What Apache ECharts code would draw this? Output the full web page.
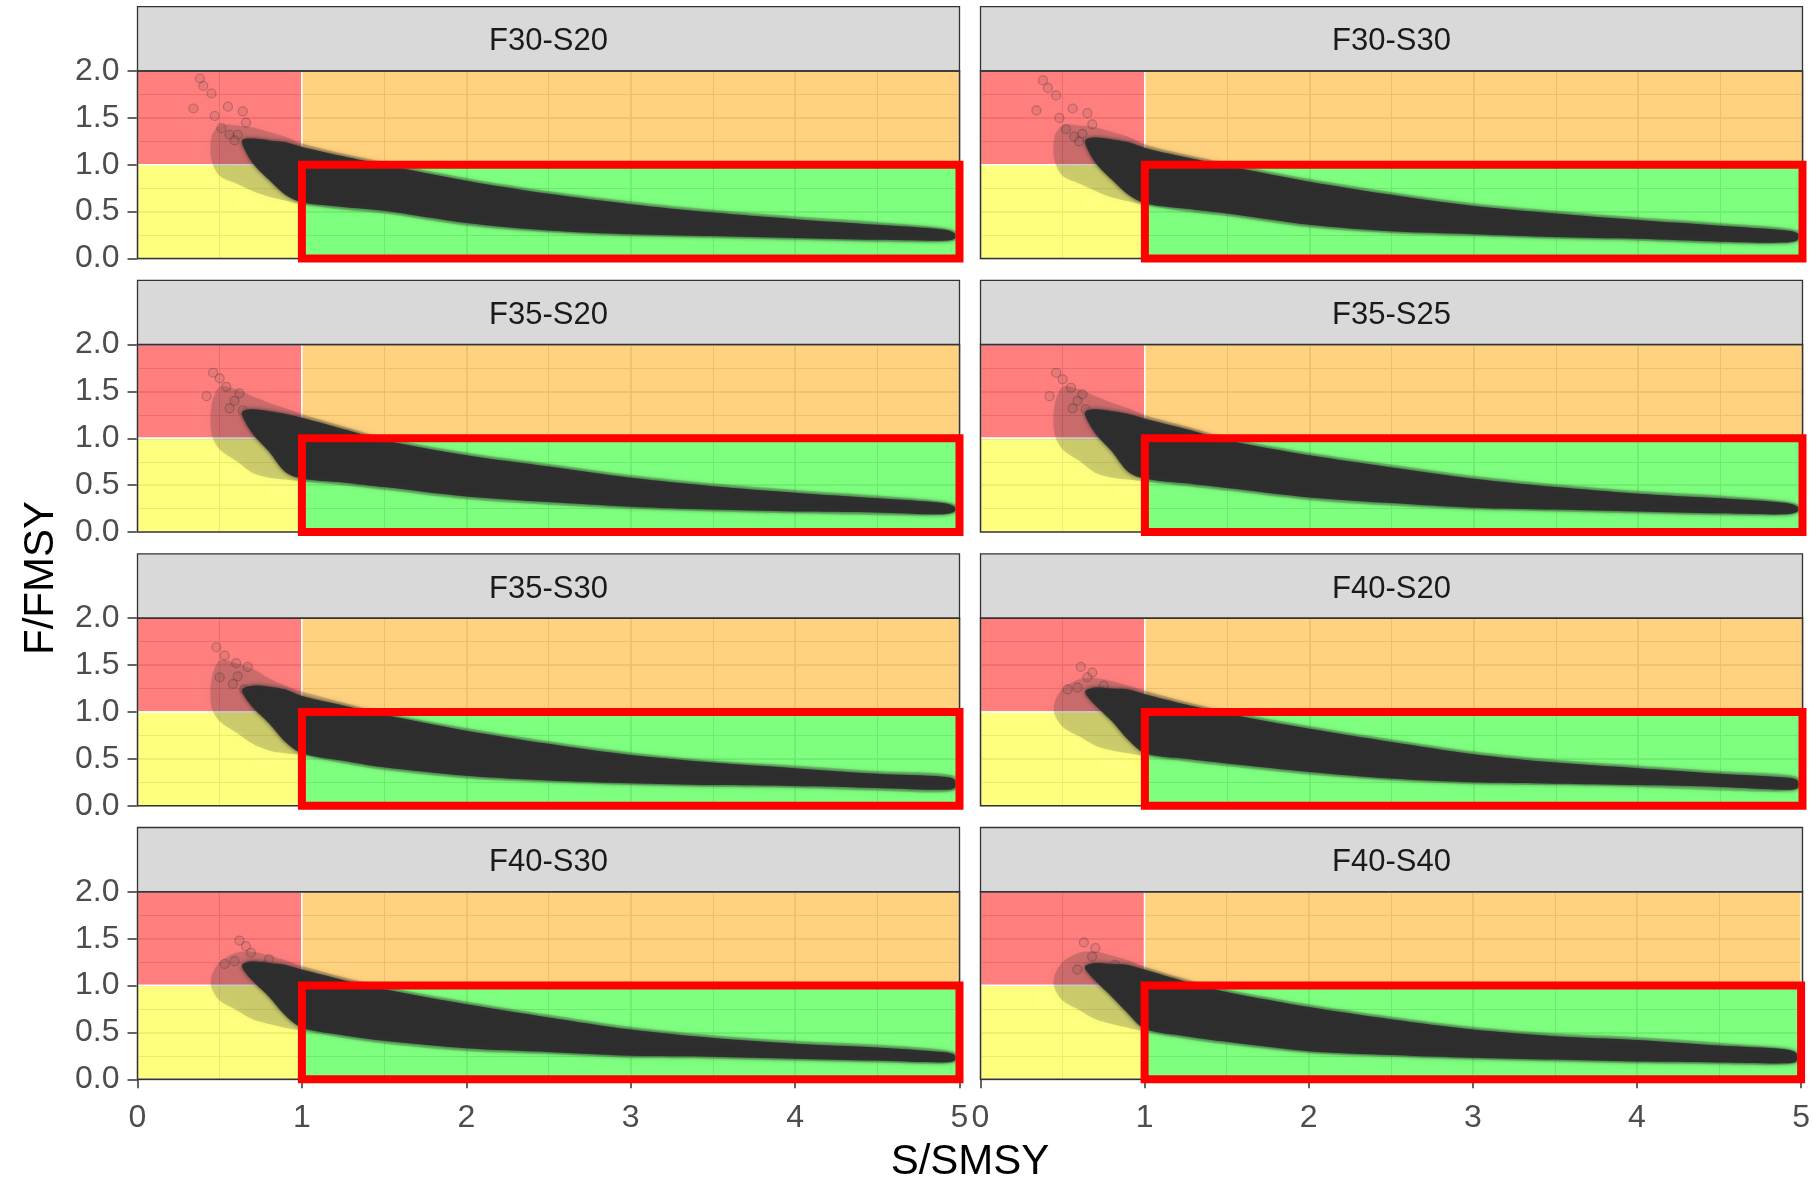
<!DOCTYPE html>
<html>
<head>
<meta charset="utf-8">
<title>F/FMSY vs S/SMSY</title>
<script src="https://cdn.jsdelivr.net/npm/echarts@6/dist/echarts.min.js"></script>
<style>
  html, body { margin: 0; padding: 0; background: #fff; }
  #main { width: 1813px; height: 1180px; }
</style>
</head>
<body>
<div id="main"></div>
<script>
// panel titles, in reading order (row by row)
var panelNames = ['F30-S20', 'F30-S30', 'F35-S20', 'F35-S25', 'F35-S30', 'F40-S20', 'F40-S30', 'F40-S40'];

var xTicks = [0, 1, 2, 3, 4, 5];
var yTicks = [0, 0.5, 1, 1.5, 2];

// zones (S/SMSY, F/FMSY)
var zoneRed = [[0, 1], [1, 2]];
var zoneOrange = [[1, 1], [5, 2]];
var zoneYellow = [[0, 0], [1, 1]];
var zoneGreen = [[1, 0], [5, 1]];
// outline of the target box
var boxX = [1, 5, 5, 1, 1];
var boxY = [0, 0, 1, 1, 0];

// dense part of the cloud: upper / lower edge at these S/SMSY values
var denseX = [0.64, 0.7, 0.8, 0.9, 1.0, 1.25, 1.5, 2.0, 2.5, 3.0, 3.5, 4.0, 4.5, 4.9, 4.97];
var upF30S20 = [1.27, 1.28, 1.26, 1.24, 1.19, 1.09, 1.00, 0.83, 0.69, 0.58, 0.49, 0.42, 0.36, 0.31, 0.27];
var loF30S20 = [1.21, 1.02, 0.84, 0.68, 0.60, 0.55, 0.51, 0.38, 0.30, 0.26, 0.24, 0.22, 0.20, 0.19, 0.21];
var upF30S30 = [1.27, 1.29, 1.27, 1.24, 1.18, 1.08, 0.99, 0.82, 0.68, 0.56, 0.48, 0.41, 0.35, 0.30, 0.27];
var loF30S30 = [1.21, 1.02, 0.84, 0.68, 0.59, 0.53, 0.48, 0.36, 0.29, 0.26, 0.23, 0.21, 0.18, 0.17, 0.20];
var upF35S20 = [1.29, 1.31, 1.29, 1.26, 1.22, 1.10, 0.98, 0.82, 0.70, 0.58, 0.49, 0.42, 0.36, 0.31, 0.27];
var loF35S20 = [1.23, 1.05, 0.86, 0.64, 0.57, 0.53, 0.48, 0.38, 0.32, 0.27, 0.24, 0.22, 0.21, 0.19, 0.22];
var upF35S25 = [1.29, 1.31, 1.29, 1.26, 1.21, 1.10, 0.98, 0.82, 0.69, 0.57, 0.48, 0.41, 0.36, 0.31, 0.27];
var loF35S25 = [1.23, 1.05, 0.86, 0.64, 0.57, 0.52, 0.47, 0.37, 0.31, 0.26, 0.24, 0.22, 0.20, 0.19, 0.22];
var upF35S30 = [1.25, 1.28, 1.27, 1.24, 1.17, 1.07, 0.97, 0.80, 0.66, 0.54, 0.46, 0.40, 0.34, 0.31, 0.28];
var loF35S30 = [1.20, 1.05, 0.88, 0.68, 0.56, 0.48, 0.41, 0.32, 0.27, 0.24, 0.22, 0.21, 0.19, 0.17, 0.19];
var upF40S20 = [1.23, 1.26, 1.25, 1.24, 1.19, 1.08, 0.98, 0.82, 0.68, 0.55, 0.46, 0.40, 0.34, 0.30, 0.27];
var loF40S20 = [1.19, 1.07, 0.90, 0.70, 0.56, 0.50, 0.45, 0.36, 0.29, 0.25, 0.235, 0.22, 0.20, 0.17, 0.19];
var upF40S30 = [1.23, 1.26, 1.24, 1.22, 1.17, 1.06, 0.96, 0.80, 0.66, 0.53, 0.44, 0.38, 0.34, 0.29, 0.26];
var loF40S30 = [1.18, 1.05, 0.88, 0.68, 0.55, 0.47, 0.41, 0.33, 0.29, 0.25, 0.24, 0.22, 0.20, 0.18, 0.20];
var upF40S40 = [1.21, 1.24, 1.23, 1.22, 1.17, 1.04, 0.93, 0.77, 0.64, 0.53, 0.46, 0.42, 0.36, 0.32, 0.28];
var loF40S40 = [1.17, 1.05, 0.88, 0.70, 0.54, 0.46, 0.40, 0.30, 0.26, 0.23, 0.21, 0.19, 0.18, 0.17, 0.19];

// faint halo of sparse points round the dense part
var hazeX = [0.45, 0.5, 0.6, 0.7, 0.8, 0.9, 1.0, 1.25, 1.5, 2.0, 2.5, 3.0, 3.5, 4.0, 4.5, 4.97];
var hazeUpF30S20 = [1.30, 1.42, 1.42, 1.40, 1.35, 1.30, 1.23, 1.12, 1.03, 0.86, 0.72, 0.61, 0.52, 0.45, 0.39, 0.30];
var hazeLoF30S20 = [1.05, 0.88, 0.80, 0.72, 0.66, 0.62, 0.58, 0.52, 0.48, 0.35, 0.28, 0.24, 0.22, 0.20, 0.18, 0.19];
var hazeUpF30S30 = [1.30, 1.42, 1.42, 1.40, 1.35, 1.30, 1.22, 1.11, 1.02, 0.85, 0.71, 0.59, 0.51, 0.44, 0.38, 0.30];
var hazeLoF30S30 = [1.05, 0.88, 0.80, 0.72, 0.65, 0.61, 0.57, 0.50, 0.45, 0.33, 0.27, 0.24, 0.21, 0.19, 0.16, 0.18];
var hazeUpF35S20 = [1.35, 1.55, 1.52, 1.45, 1.38, 1.32, 1.26, 1.13, 1.01, 0.85, 0.73, 0.61, 0.52, 0.45, 0.39, 0.30];
var hazeLoF35S20 = [1.05, 0.88, 0.76, 0.63, 0.58, 0.56, 0.54, 0.50, 0.45, 0.35, 0.29, 0.25, 0.22, 0.20, 0.18, 0.20];
var hazeUpF35S25 = [1.35, 1.55, 1.52, 1.45, 1.38, 1.32, 1.25, 1.13, 1.01, 0.85, 0.72, 0.60, 0.51, 0.44, 0.39, 0.30];
var hazeLoF35S25 = [1.05, 0.88, 0.76, 0.63, 0.58, 0.56, 0.54, 0.49, 0.44, 0.34, 0.28, 0.24, 0.22, 0.20, 0.18, 0.20];
var hazeUpF35S30 = [1.35, 1.55, 1.52, 1.46, 1.36, 1.28, 1.22, 1.10, 0.99, 0.83, 0.69, 0.57, 0.48, 0.43, 0.37, 0.32];
var hazeLoF35S30 = [1.05, 0.90, 0.78, 0.66, 0.59, 0.56, 0.54, 0.45, 0.38, 0.29, 0.25, 0.22, 0.20, 0.19, 0.16, 0.16];
var hazeUpF40S20 = [1.10, 1.25, 1.35, 1.36, 1.33, 1.28, 1.23, 1.11, 1.01, 0.85, 0.71, 0.58, 0.49, 0.43, 0.37, 0.31];
var hazeLoF40S20 = [0.98, 0.84, 0.74, 0.64, 0.59, 0.56, 0.53, 0.47, 0.42, 0.33, 0.27, 0.23, 0.22, 0.20, 0.16, 0.17];
var hazeUpF40S30 = [1.10, 1.25, 1.35, 1.36, 1.32, 1.27, 1.21, 1.09, 0.99, 0.83, 0.69, 0.56, 0.47, 0.41, 0.37, 0.29];
var hazeLoF40S30 = [0.98, 0.84, 0.74, 0.64, 0.59, 0.55, 0.52, 0.44, 0.38, 0.30, 0.27, 0.23, 0.22, 0.20, 0.18, 0.18];
var hazeUpF40S40 = [1.10, 1.25, 1.35, 1.36, 1.32, 1.27, 1.20, 1.07, 0.96, 0.80, 0.67, 0.56, 0.49, 0.45, 0.39, 0.30];
var hazeLoF40S40 = [0.98, 0.84, 0.74, 0.64, 0.59, 0.55, 0.51, 0.43, 0.37, 0.28, 0.24, 0.21, 0.19, 0.17, 0.16, 0.17];

// scattered single points (S/SMSY, F/FMSY)
var ptsF30S20 = [[0.34, 1.60], [0.38, 1.92], [0.40, 1.84], [0.45, 1.76], [0.47, 1.52], [0.51, 1.39], [0.55, 1.62], [0.56, 1.32], [0.59, 1.26], [0.61, 1.32], [0.64, 1.57], [0.66, 1.45]];
var ptsF30S30 = [[0.34, 1.58], [0.38, 1.90], [0.41, 1.82], [0.46, 1.74], [0.48, 1.50], [0.52, 1.38], [0.56, 1.60], [0.57, 1.30], [0.60, 1.25], [0.62, 1.33], [0.65, 1.55], [0.68, 1.43]];
var ptsF35S20 = [[0.46, 1.70], [0.42, 1.45], [0.50, 1.64], [0.54, 1.55], [0.59, 1.40], [0.56, 1.32], [0.64, 1.30], [0.70, 1.21], [0.62, 1.48]];
var ptsF35S25 = [[0.46, 1.70], [0.42, 1.45], [0.50, 1.63], [0.55, 1.54], [0.59, 1.40], [0.56, 1.32], [0.64, 1.31], [0.70, 1.21], [0.62, 1.47]];
var ptsF35S30 = [[0.48, 1.69], [0.50, 1.37], [0.53, 1.60], [0.61, 1.38], [0.58, 1.30], [0.65, 1.24], [0.73, 1.21], [0.60, 1.52], [0.67, 1.48]];
var ptsF40S20 = [[0.61, 1.48], [0.59, 1.26], [0.65, 1.37], [0.75, 1.28], [0.72, 1.19], [0.68, 1.42], [0.53, 1.24]];
var ptsF40S30 = [[0.62, 1.48], [0.59, 1.26], [0.69, 1.35], [0.77, 1.21], [0.80, 1.28], [0.66, 1.42], [0.53, 1.23]];
var ptsF40S40 = [[0.63, 1.46], [0.68, 1.31], [0.77, 1.17], [0.88, 1.13], [0.59, 1.17], [0.70, 1.40], [0.82, 1.22]];

var panels = [
  { up: upF30S20, lo: loF30S20, hazeUp: hazeUpF30S20, hazeLo: hazeLoF30S20, pts: ptsF30S20 },
  { up: upF30S30, lo: loF30S30, hazeUp: hazeUpF30S30, hazeLo: hazeLoF30S30, pts: ptsF30S30 },
  { up: upF35S20, lo: loF35S20, hazeUp: hazeUpF35S20, hazeLo: hazeLoF35S20, pts: ptsF35S20 },
  { up: upF35S25, lo: loF35S25, hazeUp: hazeUpF35S25, hazeLo: hazeLoF35S25, pts: ptsF35S25 },
  { up: upF35S30, lo: loF35S30, hazeUp: hazeUpF35S30, hazeLo: hazeLoF35S30, pts: ptsF35S30 },
  { up: upF40S20, lo: loF40S20, hazeUp: hazeUpF40S20, hazeLo: hazeLoF40S20, pts: ptsF40S20 },
  { up: upF40S30, lo: loF40S30, hazeUp: hazeUpF40S30, hazeLo: hazeLoF40S30, pts: ptsF40S30 },
  { up: upF40S40, lo: loF40S40, hazeUp: hazeUpF40S40, hazeLo: hazeLoF40S40, pts: ptsF40S40 }
];

var FONT = "'Liberation Sans', Arial, sans-serif";
var colLeft = [137.5, 980.5];
var panelW = 822, panelH = 187.5, rowStep = 273.6, firstTop = 71, stripH = 64.3;

var myChart = echarts.init(document.getElementById('main'));

function bandRenderer(xs, up, lo, fill, blur) {
  return function (params, api) {
    var pts = [];
    for (var i = 0; i < xs.length; i++) pts.push(api.coord([xs[i], up[i]]));
    for (var j = xs.length - 1; j >= 0; j--) pts.push(api.coord([xs[j], lo[j]]));
    return {
      type: 'polygon',
      shape: { points: pts, smooth: 0.3 },
      style: { fill: fill, shadowBlur: blur, shadowColor: fill }
    };
  };
}

var grids = [], xAxes = [], yAxes = [], series = [], graphics = [];

panels.forEach(function (p, i) {
  var row = Math.floor(i / 2), col = i % 2;
  var left = colLeft[col], top = firstTop + row * rowStep;
  var bottomRow = row === 3, leftCol = col === 0;

  grids.push({ left: left, top: top, width: panelW, height: panelH });

  xAxes.push({
    gridIndex: i, type: 'value', min: xTicks[0], max: xTicks[xTicks.length - 1], interval: 1,
    axisLine: { show: false },
    axisTick: { show: bottomRow, length: 9, lineStyle: { color: '#333', width: 1.5 } },
    axisLabel: { show: bottomRow, fontSize: 32, color: '#4D4D4D', margin: 23, fontFamily: FONT },
    splitLine: { show: true, lineStyle: { color: '#D6D6D6', width: 1.6 } },
    minorTick: { show: false, splitNumber: 2 },
    minorSplitLine: { show: true, lineStyle: { color: '#D9D9D9', width: 1 } }
  });
  yAxes.push({
    gridIndex: i, type: 'value', min: yTicks[0], max: yTicks[yTicks.length - 1], interval: 0.5,
    axisLine: { show: false },
    axisTick: { show: leftCol, length: 10, lineStyle: { color: '#333', width: 1.5 } },
    axisLabel: {
      show: leftCol, fontSize: 32, color: '#4D4D4D', margin: 18, fontFamily: FONT,
      formatter: function (v) { return v.toFixed(1); }
    },
    splitLine: { show: true, lineStyle: { color: '#D6D6D6', width: 1.6 } },
    minorTick: { show: false, splitNumber: 2 },
    minorSplitLine: { show: true, lineStyle: { color: '#D9D9D9', width: 1 } }
  });

  function zone(z, color) {
    return [
      { coord: z[0], itemStyle: { color: color, borderColor: '#fff', borderWidth: 1.5 } },
      { coord: z[1] }
    ];
  }
  // coloured zones
  series.push({
    type: 'line', xAxisIndex: i, yAxisIndex: i, z: 1,
    data: [[0, 0]], symbol: 'none', lineStyle: { opacity: 0 }, silent: true,
    markArea: {
      silent: true,
      data: [
        zone(zoneRed, 'rgba(255,0,0,0.5)'),
        zone(zoneOrange, 'rgba(255,165,0,0.5)'),
        zone(zoneYellow, 'rgba(255,255,0,0.5)'),
        zone(zoneGreen, 'rgba(0,255,0,0.5)')
      ]
    }
  });
  // halo and dense cloud
  series.push({
    type: 'custom', xAxisIndex: i, yAxisIndex: i, z: 2, silent: true,
    data: [[0, 0]],
    renderItem: bandRenderer(hazeX, p.hazeUp, p.hazeLo, 'rgba(51,51,51,0.22)', 8)
  });
  series.push({
    type: 'custom', xAxisIndex: i, yAxisIndex: i, z: 3, silent: true,
    data: [[0, 0]],
    renderItem: bandRenderer(denseX, p.up, p.lo, 'rgba(45,45,45,0.97)', 4)
  });
  series.push({
    type: 'scatter', xAxisIndex: i, yAxisIndex: i, z: 3, silent: true,
    data: p.pts, symbol: 'circle', symbolSize: 9,
    itemStyle: { color: 'rgba(51,51,51,0.12)', borderColor: 'rgba(51,51,51,0.38)', borderWidth: 1.2 }
  });
  // red target box
  series.push({
    type: 'line', xAxisIndex: i, yAxisIndex: i, z: 6, silent: true, clip: false,
    data: boxX.map(function (x, k) { return [x, boxY[k]]; }),
    symbol: 'none',
    lineStyle: { color: '#FF0000', width: 8, join: 'miter', cap: 'square' }
  });

  // strip and panel frame
  graphics.push({
    type: 'rect', z: 5,
    shape: { x: left, y: top - stripH, width: panelW, height: stripH },
    style: { fill: '#D9D9D9', stroke: '#333', lineWidth: 1.3 }
  });
  graphics.push({
    type: 'text', z: 6, x: left + panelW / 2, y: top - stripH / 2 + 3,
    style: { text: panelNames[i], fontSize: 31, fontFamily: FONT, fill: '#1A1A1A', align: 'center', verticalAlign: 'middle' }
  });
  graphics.push({
    type: 'rect', z: 5,
    shape: { x: left, y: top, width: panelW, height: panelH },
    style: { fill: 'none', stroke: '#333', lineWidth: 1.5 }
  });
});

graphics.push({
  type: 'text', x: 41, y: 578, rotation: Math.PI / 2,
  style: { text: 'F/FMSY', fontSize: 42, fontFamily: FONT, fill: '#000', align: 'center', verticalAlign: 'middle' }
});
graphics.push({
  type: 'text', x: 970, y: 1162,
  style: { text: 'S/SMSY', fontSize: 42, fontFamily: FONT, fill: '#000', align: 'center', verticalAlign: 'middle' }
});

option = {
  animation: false,
  backgroundColor: '#fff',
  grid: grids,
  xAxis: xAxes,
  yAxis: yAxes,
  series: series,
  graphic: { elements: graphics }
};
myChart.setOption(option);
</script>
</body>
</html>
